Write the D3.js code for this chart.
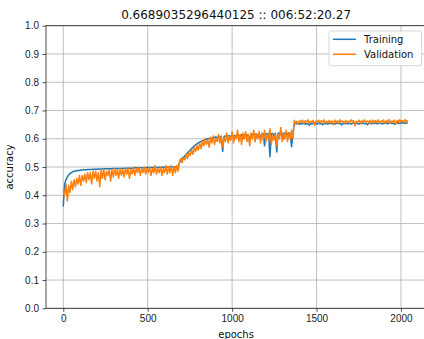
<!DOCTYPE html>
<html lang="en">
<head>
<meta charset="UTF-8">
<title>accuracy</title>
<script src="https://cdn.jsdelivr.net/npm/d3@7"></script>
<style>
  body { margin: 0; background: #fff; }
  svg { display: block; font-family: "DejaVu Sans", sans-serif; }
  .grid line { stroke: #b0b0b0; stroke-width: 0.8; }
  .axis text { font-size: 10px; fill: #222; }
  .axis line, .axis path { stroke: #222; stroke-width: 0.8; }
</style>
</head>
<body>
<svg id="chart" width="424" height="339"></svg>
<script>
const title = '0.6689035296440125 :: 006:52:20.27';
const epochStep = 8; // one value every 8 epochs

const trainAcc = [
  // 0 - 680
  0.36,0.44,0.455,0.465,0.472,0.477,0.48,0.483,0.485,0.486,
  0.487,0.488,0.488,0.489,0.489,0.49,0.49,0.49,0.491,0.491,
  0.491,0.491,0.492,0.492,0.492,0.492,0.493,0.493,0.493,0.493,
  0.493,0.494,0.494,0.494,0.494,0.494,0.494,0.495,0.495,0.495,
  0.495,0.495,0.495,0.495,0.495,0.496,0.496,0.496,0.496,0.496,
  0.496,0.496,0.496,0.497,0.497,0.497,0.497,0.497,0.497,0.497,
  0.497,0.497,0.498,0.498,0.498,0.498,0.498,0.498,0.498,0.498,
  0.498,0.499,0.499,0.499,0.499,0.499,0.499,0.499,0.5,0.5,
  0.5,0.5,0.5,0.5,0.5,0.5,
  // 688 - 1360
  0.515,0.525,0.53,0.535,0.54,0.545,0.55,0.555,0.56,0.565,
  0.57,0.575,0.578,0.582,0.585,0.588,0.59,0.593,0.595,0.597,
  0.598,0.6,0.601,0.602,0.603,0.6,0.605,0.606,0.604,0.607,
  0.608,0.6,0.555,0.608,0.61,0.606,0.61,0.611,0.607,0.612,
  0.61,0.612,0.605,0.613,0.612,0.61,0.614,0.6,0.614,0.615,
  0.612,0.615,0.59,0.615,0.616,0.612,0.616,0.617,0.61,0.617,
  0.6,0.617,0.618,0.575,0.618,0.615,0.618,0.536,0.618,0.619,
  0.61,0.619,0.553,0.619,0.62,0.615,0.62,0.6,0.62,0.621,
  0.615,0.621,0.618,0.572,0.621,
  // 1368 - 2040
  0.652,0.654,0.653,0.655,0.651,0.654,0.653,0.655,0.652,0.654,
  0.653,0.648,0.654,0.652,0.655,0.653,0.654,0.652,0.655,0.653,
  0.654,0.65,0.655,0.653,0.654,0.652,0.655,0.654,0.653,0.655,
  0.652,0.654,0.656,0.653,0.655,0.649,0.654,0.653,0.655,0.654,
  0.653,0.655,0.652,0.654,0.656,0.653,0.655,0.654,0.652,0.655,
  0.654,0.656,0.653,0.655,0.65,0.654,0.656,0.653,0.655,0.654,
  0.656,0.653,0.655,0.654,0.656,0.652,0.655,0.654,0.656,0.653,
  0.655,0.657,0.654,0.656,0.651,0.655,0.657,0.654,0.656,0.655,
  0.657,0.654,0.656,0.655,0.657
];

const valAcc = [
  // 0 - 680
  0.42,0.40,0.44,0.38,0.435,0.41,0.45,0.42,0.455,0.43,
  0.46,0.44,0.47,0.435,0.47,0.45,0.475,0.445,0.48,0.455,
  0.48,0.44,0.485,0.46,0.485,0.45,0.48,0.43,0.49,0.46,
  0.49,0.455,0.485,0.47,0.49,0.45,0.49,0.465,0.495,0.47,
  0.49,0.46,0.495,0.47,0.49,0.465,0.495,0.475,0.495,0.46,
  0.49,0.475,0.5,0.47,0.495,0.48,0.5,0.47,0.495,0.48,
  0.5,0.475,0.495,0.48,0.5,0.47,0.495,0.48,0.505,0.475,
  0.495,0.48,0.5,0.47,0.495,0.48,0.505,0.475,0.5,0.48,
  0.505,0.47,0.5,0.48,0.505,0.485,
  // 688 - 1360
  0.52,0.53,0.515,0.535,0.525,0.545,0.53,0.55,0.54,0.56,
  0.545,0.57,0.555,0.575,0.56,0.585,0.565,0.59,0.575,0.6,
  0.58,0.595,0.57,0.605,0.585,0.61,0.58,0.6,0.59,0.615,
  0.585,0.61,0.57,0.605,0.59,0.62,0.585,0.61,0.595,0.625,
  0.585,0.61,0.6,0.63,0.59,0.615,0.58,0.62,0.6,0.625,
  0.59,0.615,0.575,0.62,0.6,0.63,0.59,0.615,0.6,0.625,
  0.585,0.62,0.595,0.63,0.59,0.615,0.6,0.635,0.58,0.61,
  0.595,0.62,0.575,0.615,0.6,0.64,0.59,0.62,0.6,0.63,
  0.59,0.62,0.6,0.63,0.6,
  // 1368 - 2040
  0.665,0.655,0.662,0.652,0.664,0.658,0.666,0.655,0.663,0.659,
  0.667,0.654,0.662,0.657,0.665,0.648,0.663,0.658,0.666,0.656,
  0.664,0.659,0.667,0.653,0.662,0.658,0.665,0.656,0.663,0.65,
  0.666,0.658,0.664,0.655,0.667,0.659,0.662,0.654,0.665,0.658,
  0.663,0.656,0.667,0.66,0.664,0.646,0.662,0.658,0.666,0.655,
  0.664,0.659,0.667,0.656,0.663,0.658,0.665,0.652,0.666,0.659,
  0.664,0.657,0.667,0.655,0.663,0.66,0.666,0.654,0.664,0.658,
  0.668,0.656,0.663,0.659,0.666,0.651,0.665,0.658,0.667,0.66,
  0.664,0.657,0.668,0.659,0.666
];

const seriesNames = ['Training', 'Validation'];
const seriesColors = ['#1f77b4', '#ff7f0e'];
const xTicks = [0, 500, 1000, 1500, 2000];
const yTicks = [0, 0.1, 0.2, 0.3, 0.4, 0.5, 0.6, 0.7, 0.8, 0.9, 1.0];

const svg = d3.select('#chart');
const plotLeft = 46, plotRight = 426.2, plotTop = 25.7, plotBottom = 308.3;

const pad = 0.05 * 2047;
const x = d3.scaleLinear().domain([-pad, 2047 + pad]).range([plotLeft, plotRight]);
const y = d3.scaleLinear().domain([0, 1]).range([plotBottom, plotTop]);

// grid
const grid = svg.append('g').attr('class', 'grid');
grid.selectAll('.gx').data(xTicks).enter().append('line')
  .attr('x1', d => x(d)).attr('x2', d => x(d))
  .attr('y1', plotTop).attr('y2', plotBottom);
grid.selectAll('.gy').data(yTicks).enter().append('line')
  .attr('x1', plotLeft).attr('x2', plotRight)
  .attr('y1', d => y(d)).attr('y2', d => y(d));

// series
const line = d3.line()
  .x((d, i) => x(i * epochStep))
  .y(d => y(d));

[trainAcc, valAcc].forEach((s, k) => {
  svg.append('path')
    .datum(s)
    .attr('fill', 'none')
    .attr('stroke', seriesColors[k])
    .attr('stroke-width', 1.5)
    .attr('stroke-linejoin', 'round')
    .attr('d', line);
});

// frame
svg.append('rect')
  .attr('x', plotLeft).attr('y', plotTop)
  .attr('width', plotRight - plotLeft).attr('height', plotBottom - plotTop)
  .attr('fill', 'none').attr('stroke', '#222').attr('stroke-width', 0.8);

// axes
const xAxis = svg.append('g').attr('class', 'axis')
  .attr('transform', `translate(0,${plotBottom})`)
  .call(d3.axisBottom(x).tickValues(xTicks).tickSize(3.5).tickPadding(3.5).tickFormat(d3.format('d')));
xAxis.select('.domain').remove();

const yAxis = svg.append('g').attr('class', 'axis')
  .attr('transform', `translate(${plotLeft},0)`)
  .call(d3.axisLeft(y).tickValues(yTicks).tickSize(3.5).tickPadding(3.5).tickFormat(d3.format('.1f')));
yAxis.select('.domain').remove();

// labels
svg.append('text')
  .attr('x', (plotLeft + plotRight) / 2).attr('y', 18.5)
  .attr('text-anchor', 'middle').attr('font-size', 12).attr('fill', '#111')
  .text(title);

svg.append('text')
  .attr('x', (plotLeft + plotRight) / 2).attr('y', 338)
  .attr('text-anchor', 'middle').attr('font-size', 10).attr('fill', '#111')
  .text('epochs');

svg.append('text')
  .attr('transform', `translate(13,${(plotTop + plotBottom) / 2}) rotate(-90)`)
  .attr('text-anchor', 'middle').attr('font-size', 10).attr('fill', '#111')
  .text('accuracy');

// legend
const lg = svg.append('g').attr('transform', 'translate(329,31)');
lg.append('rect')
  .attr('width', 92.7).attr('height', 34.7).attr('rx', 2)
  .attr('fill', '#fff').attr('fill-opacity', 0.8)
  .attr('stroke', '#ccc').attr('stroke-width', 0.8);
seriesNames.forEach((name, i) => {
  const ly = 8.3 + i * 15;
  lg.append('line')
    .attr('x1', 4).attr('x2', 27).attr('y1', ly).attr('y2', ly)
    .attr('stroke', seriesColors[i]).attr('stroke-width', 1.5);
  lg.append('text')
    .attr('x', 35).attr('y', ly + 3.6)
    .attr('font-size', 10).attr('fill', '#111')
    .text(name);
});
</script>
</body>
</html>
